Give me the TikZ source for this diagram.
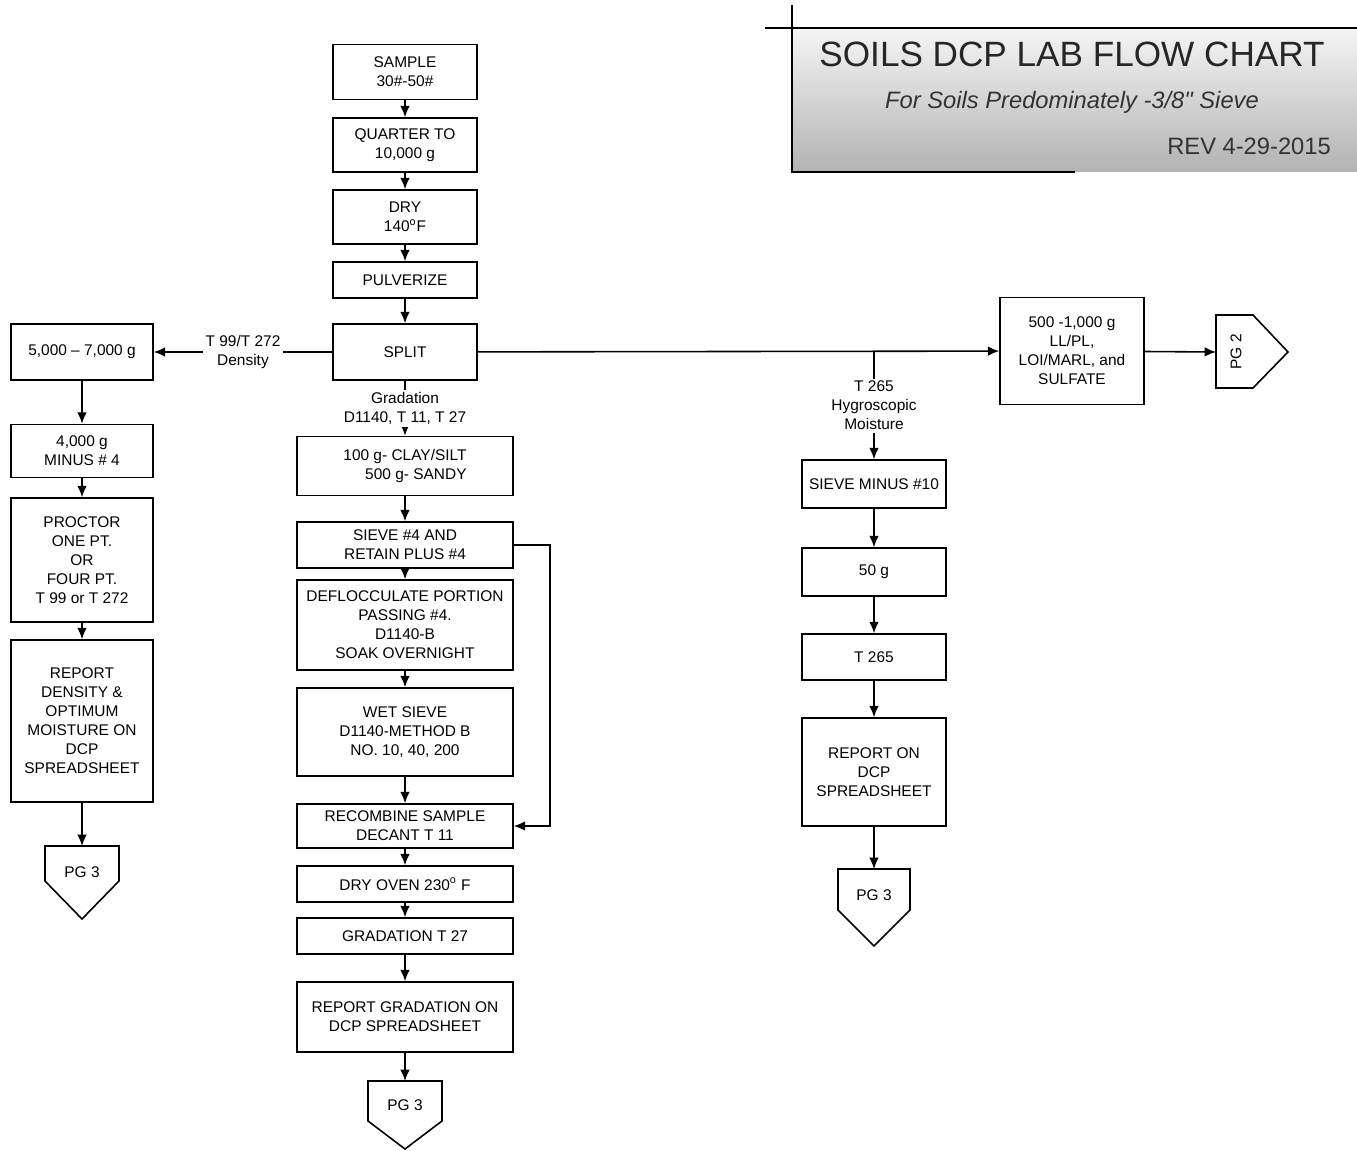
\documentclass[tikz,border=0pt]{standalone}
\usepackage{fontspec}
\setmainfont{Liberation Sans}
\newfontfamily\plainsans{Liberation Sans}
\usetikzlibrary{arrows.meta}
\newcommand{\boxfont}{\fontsize{8.8}{10.8}\selectfont}

\begin{document}
\begin{tikzpicture}[x=0.02cm, y=-0.02cm,
    stepbox/.style={draw, line width=0.9pt, align=center, font=\boxfont, inner sep=1pt},
    narrow/.style={minimum width=2.88cm},
    wide/.style={minimum width=4.32cm},
    arr/.style={-{Latex[length=6.5pt,width=5.5pt]}, line width=0.9pt},
    lbl/.style={fill=white, align=center, font=\boxfont, inner sep=1.5pt},
    pgline/.style={line width=0.9pt, line join=miter}]
    \useasboundingbox (0,0) rectangle (1357,1151);

    % title block
    \shade[top color=gray!8, bottom color=gray!60] (792,28) rectangle (1357,172);
    \draw[line width=0.9pt] (765,28) -- (1357,28);
    \draw[line width=0.9pt] (792,5) -- (792,172) -- (1075,172);
    \node[font=\fontsize{20}{24}\selectfont, text=black!85] (title) at (1072,54) {SOILS DCP LAB FLOW CHART};
    \node[font=\plainsans\fontsize{13.5}{16}\selectfont\itshape, text=black!80] (subtitle) at (1072,102) {For Soils Predominately -3/8" Sieve};
    \node[font=\fontsize{13.5}{16}\selectfont, text=black!80, anchor=east] (rev) at (1337,146) {REV 4-29-2015};

    % main column
    \node[stepbox, narrow, minimum height=1.1cm] (sample) at (405,72) {SAMPLE\\30\#-50\#};
    \node[stepbox, narrow, minimum height=1.08cm] (quarter) at (405,145) {QUARTER TO\\10,000 g};
    \node[stepbox, narrow, minimum height=1.08cm] (dry) at (405,217) {DRY\\140\textsuperscript{o}F};
    \node[stepbox, narrow, minimum height=0.72cm] (pulv) at (405,280) {PULVERIZE};
    \node[stepbox, narrow, minimum height=1.12cm] (split) at (405,352) {SPLIT};
    \node[stepbox, wide, minimum height=1.18cm, align=right] (clay) at (405,466) {100 g- CLAY/SILT\\500 g- SANDY};
    \node[stepbox, wide, minimum height=0.92cm] (sieve4) at (405,545) {SIEVE \#4 AND\\RETAIN PLUS \#4};
    \node[stepbox, wide, minimum height=1.8cm] (defloc) at (405,625) {DEFLOCCULATE PORTION\\PASSING \#4.\\D1140-B\\SOAK OVERNIGHT};
    \node[stepbox, wide, minimum height=1.76cm] (wetsieve) at (405,732) {WET SIEVE\\D1140-METHOD B\\NO. 10, 40, 200};
    \node[stepbox, wide, minimum height=0.88cm] (recomb) at (405,826) {RECOMBINE SAMPLE\\DECANT T 11};
    \node[stepbox, wide, minimum height=0.72cm] (oven) at (405,884) {DRY OVEN 230\textsuperscript{o} F};
    \node[stepbox, wide, minimum height=0.72cm] (grad) at (405,936) {GRADATION T 27};
    \node[stepbox, wide, minimum height=1.4cm] (repgrad) at (405,1017) {REPORT GRADATION ON\\DCP SPREADSHEET};
    \coordinate (pgCtop) at (405,1081);
    \draw[pgline] (368,1081) -- (442,1081) -- (442,1121) -- (405,1149) -- (368,1121) -- cycle;
    \node[font=\boxfont] (pgC) at (405,1105) {PG 3};

    % density column
    \node[stepbox, minimum width=2.84cm, minimum height=1.12cm] (bulk) at (82,352) {5,000 -- 7,000 g};
    \node[stepbox, minimum width=2.84cm, minimum height=1.06cm] (minus4) at (82,451) {4,000 g\\MINUS \# 4};
    \node[stepbox, minimum width=2.84cm, minimum height=2.48cm] (proctor) at (82,560) {PROCTOR\\ONE PT.\\OR\\FOUR PT.\\T 99 or T 272};
    \node[stepbox, minimum width=2.84cm, minimum height=3.24cm] (repdens) at (82,721) {REPORT\\DENSITY \&\\OPTIMUM\\MOISTURE ON\\DCP\\SPREADSHEET};
    \coordinate (pgLtop) at (82,846);
    \draw[pgline] (45,846) -- (119,846) -- (119,881) -- (82,919) -- (45,881) -- cycle;
    \node[font=\boxfont] (pgL) at (82,872) {PG 3};

    % moisture column
    \coordinate (branch) at (874,352);
    \node[stepbox, narrow, minimum height=2.14cm] (lab) at (1072,351) {500 -1,000 g\\LL/PL,\\LOI/MARL, and\\SULFATE};
    \node[stepbox, narrow, minimum height=0.96cm] (sieve10) at (874,484) {SIEVE MINUS \#10};
    \node[stepbox, narrow, minimum height=0.96cm] (fifty) at (874,572) {50 g};
    \node[stepbox, narrow, minimum height=0.92cm] (hyg) at (874,657) {T 265};
    \node[stepbox, narrow, minimum height=2.16cm] (repdcp) at (874,772) {REPORT ON\\DCP\\SPREADSHEET};
    \coordinate (pgRtop) at (874,869);
    \draw[pgline] (838,869) -- (910,869) -- (910,910) -- (874,946) -- (838,910) -- cycle;
    \node[font=\boxfont] (pgR) at (874,895) {PG 3};
    \coordinate (pgNleft) at (1216,352);
    \draw[pgline] (1216,315) -- (1253,315) -- (1288,352) -- (1253,388) -- (1216,388) -- cycle;
    \node[font=\boxfont, rotate=90] (pgN) at (1236,352) {PG 2};

    % connectors
    \draw[arr] (sample) -- (quarter);
    \draw[arr] (quarter) -- (dry);
    \draw[arr] (dry) -- (pulv);
    \draw[arr] (pulv) -- (split);
    \draw[arr] (split) -- node[lbl] {Gradation\\D1140, T 11, T 27} (clay);
    \draw[arr] (clay) -- (sieve4);
    \draw[arr] (sieve4) -- (defloc);
    \draw[arr] (defloc) -- (wetsieve);
    \draw[arr] (wetsieve) -- (recomb);
    \draw[arr] (sieve4.east) -- ++(36,0) |- (recomb.east);
    \draw[arr] (recomb) -- (oven);
    \draw[arr] (oven) -- (grad);
    \draw[arr] (grad) -- (repgrad);
    \draw[arr] (repgrad) -- (pgCtop);

    \draw[arr] (split) -- node[lbl] {T 99/T 272\\Density} (bulk);
    \draw[arr] (bulk) -- (minus4);
    \draw[arr] (minus4) -- (proctor);
    \draw[arr] (proctor) -- (repdens);
    \draw[arr] (repdens) -- (pgLtop);

    \draw[arr] (split) -- (lab);
    \draw[arr] (lab) -- (pgNleft);
    \draw[arr] (branch) -- node[lbl] {T 265\\Hygroscopic\\Moisture} (sieve10);
    \draw[arr] (sieve10) -- (fifty);
    \draw[arr] (fifty) -- (hyg);
    \draw[arr] (hyg) -- (repdcp);
    \draw[arr] (repdcp) -- (pgRtop);
\end{tikzpicture}
\end{document}
